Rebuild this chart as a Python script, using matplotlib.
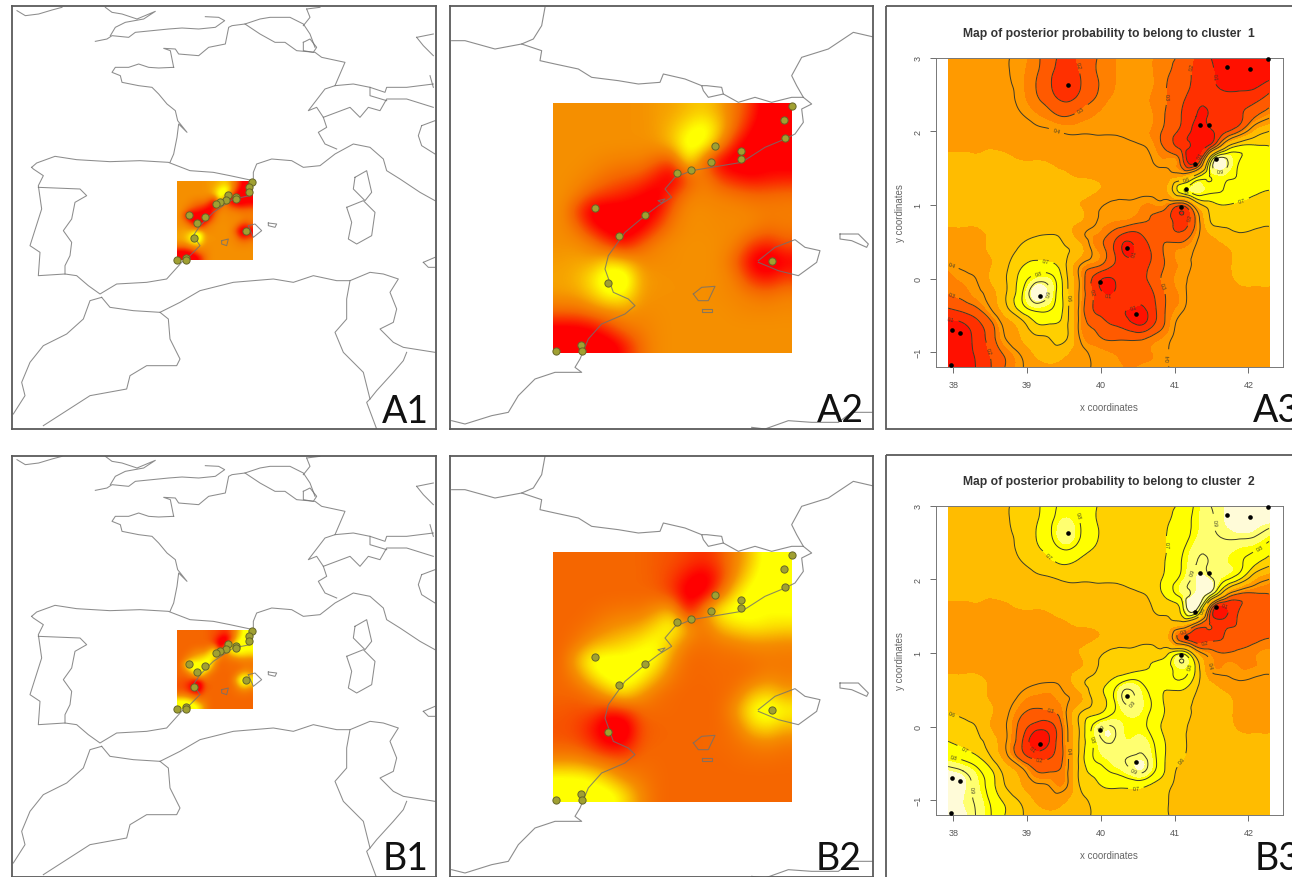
import matplotlib

matplotlib.use("Agg")

import matplotlib.pyplot as plt
import numpy as np
from matplotlib.colors import BoundaryNorm, LinearSegmentedColormap, ListedColormap
from matplotlib.patches import Rectangle
from matplotlib.tri import Triangulation, UniformTriRefiner

W, H = 1292, 878

# wide map, coordinates
wide_lines = [
    [(95, 505), (110, 492), (165, 472), (230, 482), (330, 488), (420, 485), (505, 490), (570, 515), (640, 520), (690, 530), (760, 545)],
    [(521, 205), (476, 207), (446, 205), (416, 195), (386, 205), (346, 205), (336, 220), (361, 230), (366, 250), (416, 260), (456, 265), (476, 285), (501, 315), (526, 335), (533, 365), (561, 400), (536, 375), (531, 415), (521, 465), (510, 490)],
    [(521, 205), (511, 155), (491, 148), (526, 150), (536, 165), (596, 170), (626, 145), (676, 135), (686, 85), (696, 80), (735, 75), (780, 60), (810, 55), (870, 55), (910, 75), (930, 105), (945, 145)],
    [(735, 75), (780, 105), (825, 130), (855, 130), (890, 155), (945, 160), (965, 175), (1035, 190), (1005, 260), (975, 270), (925, 335), (950, 325), (970, 355), (1050, 325), (1080, 355), (1105, 325), (1140, 335), (1160, 300), (1220, 300), (1300, 325)],
    [(1005, 260), (1060, 255), (1110, 265), (1155, 280), (1160, 265), (1220, 265), (1300, 255)],
    [(1110, 265), (1110, 290), (1160, 305)],
    [(910, 130), (930, 120), (950, 145), (940, 160), (910, 155), (910, 130)],
    [(920, 30), (930, 55), (910, 80)], [(920, 30), (960, 25)],
    [(970, 355), (980, 385), (955, 400), (975, 435), (1010, 450)],
    [(760, 545), (760, 520), (770, 495), (815, 480), (875, 485), (910, 505), (960, 500), (1005, 465), (1060, 435), (1110, 445), (1150, 480), (1160, 515), (1200, 540), (1260, 580), (1305, 605)],
    [(760, 545), (750, 590), (700, 600), (640, 640), (600, 680), (580, 710), (600, 740), (570, 770), (545, 790), (500, 840), (440, 850), (350, 855), (300, 885), (265, 860), (230, 830), (195, 825), (115, 830), (120, 760), (90, 740), (125, 630), (115, 560), (130, 530), (100, 510), (95, 505)],
    [(115, 565), (240, 570), (260, 590), (225, 610), (215, 660), (190, 695), (215, 730), (210, 770), (195, 800), (195, 825)],
    [(305, 895), (330, 925), (400, 935), (480, 940), (540, 910), (600, 875), (700, 850), (820, 840), (880, 850), (940, 830), (1010, 845), (1050, 845), (1110, 820), (1150, 825), (1195, 840), (1170, 880), (1190, 930), (1180, 970), (1140, 990), (1180, 1030), (1210, 1045), (1305, 1060)],
    [(305, 895), (270, 905), (250, 960), (200, 1005), (130, 1040), (90, 1090), (65, 1150), (75, 1190), (40, 1245)],
    [(480, 940), (505, 960), (510, 1020), (540, 1080), (530, 1100), (440, 1100), (390, 1130), (380, 1170), (270, 1190), (130, 1280)],
    [(1050, 845), (1040, 900), (1040, 960), (1005, 1000), (1030, 1060), (1090, 1120), (1110, 1200)],
    [(1220, 1060), (1210, 1085), (1180, 1120), (1130, 1175), (1110, 1200), (1100, 1210), (1130, 1290)],
    [(1065, 535), (1100, 515), (1115, 580), (1095, 605), (1060, 570), (1065, 535)],
    [(1040, 625), (1090, 605), (1125, 640), (1115, 710), (1070, 735), (1045, 720), (1055, 670), (1040, 625)],
    [(1250, 115), (1270, 140), (1300, 170)], [(1250, 115), (1300, 105)],
    [(1290, 230), (1300, 265)],
    [(1265, 380), (1305, 365)], [(1265, 380), (1255, 410), (1265, 440), (1305, 465)],
    [(1270, 790), (1305, 775)], [(1270, 790), (1285, 805), (1305, 805)],
    [(745, 680), (765, 675), (785, 695), (760, 715), (745, 680)],
    [(805, 672), (830, 675), (825, 685), (805, 680), (805, 672)],
    [(665, 725), (685, 720), (680, 740), (665, 735), (665, 725)],
    [(286, 127), (321, 120), (336, 110), (386, 115), (406, 100), (456, 95), (506, 90), (546, 87), (596, 90), (646, 85), (674, 65), (656, 55), (616, 53)],
    [(316, 25), (336, 40), (366, 45), (411, 60), (466, 37), (431, 60), (376, 70), (346, 85), (331, 110)],
    [(51, 35), (76, 50), (116, 45), (156, 33), (186, 25)],
]

# close map
close_lines = [
    [(20, 125), (60, 125), (150, 150), (230, 135), (290, 155), (285, 185), (330, 195), (400, 210), (440, 235), (520, 245), (580, 255), (645, 250), (655, 225), (720, 240), (770, 260), (785, 260), (830, 265), (835, 285), (790, 295), (775, 275), (770, 260)],
    [(835, 285), (880, 310), (930, 295), (980, 310), (1040, 295), (1075, 295)],
    [(1290, 115), (1225, 100), (1150, 150), (1070, 175), (1040, 230), (1055, 260), (1075, 295), (1100, 315), (1070, 330), (1075, 370), (1050, 405), (1020, 420), (960, 445), (890, 490), (800, 505), (740, 515), (690, 535), (660, 570), (680, 595), (640, 620), (600, 650), (540, 700), (490, 770), (480, 810), (505, 880), (550, 900), (570, 920), (540, 945), (470, 975), (430, 1020), (405, 1080), (390, 1105), (410, 1120), (330, 1120), (270, 1140), (220, 1190), (190, 1240), (140, 1250), (60, 1275), (20, 1265)],
    [(300, 25), (290, 80), (265, 120), (230, 135)],
    [(1290, 1240), (1220, 1240), (1180, 1270), (1100, 1270), (1030, 1265), (960, 1290), (920, 1285)],
    [(940, 785), (990, 745), (1050, 722), (1080, 745), (1125, 755), (1115, 790), (1060, 830), (1000, 815), (940, 790)],
    [(1185, 705), (1240, 705), (1270, 735), (1265, 745), (1220, 725), (1185, 720), (1185, 705)],
    [(745, 885), (770, 865), (810, 862), (790, 905), (760, 905), (745, 885)],
    [(770, 930), (800, 930), (800, 940), (770, 940), (770, 930)],
    [(640, 605), (660, 600), (650, 612), (640, 605)],
]

wide_site_x = [757, 748, 748, 683, 707, 707, 677, 660, 648, 615, 568, 592, 582, 737, 557, 557, 530]
wide_site_y = [548, 563, 580, 587, 595, 600, 603, 610, 614, 653, 648, 673, 717, 697, 778, 783, 783]
close_site_x = [1040, 1017, 1020, 811, 888, 888, 797, 739, 697, 601, 451, 522, 488, 980, 407, 411, 332]
close_site_y = [322, 362, 418, 440, 457, 480, 490, 513, 522, 647, 628, 711, 852, 785, 1037, 1055, 1055]

# probability surfaces on the maps, percent (rows top to bottom)
surface_a = [
    [57, 57, 57, 57, 57, 57, 60, 62, 68, 72, 62, 45, 25, 4, 2],
    [57, 57, 57, 57, 57, 57, 60, 68, 82, 92, 72, 40, 15, 3, 3],
    [57, 57, 57, 57, 57, 57, 58, 70, 95, 90, 55, 18, 5, 3, 3],
    [57, 57, 55, 52, 50, 50, 40, 30, 85, 40, 10, 5, 6, 12, 10],
    [57, 55, 50, 42, 38, 33, 20, 6, 35, 52, 30, 20, 15, 18, 20],
    [57, 50, 35, 28, 22, 15, 8, 30, 50, 52, 50, 46, 42, 42, 44],
    [57, 30, 5, 5, 8, 5, 12, 42, 56, 56, 54, 54, 52, 50, 50],
    [56, 45, 20, 6, 3, 10, 32, 50, 56, 56, 55, 55, 52, 45, 48],
    [57, 57, 50, 30, 18, 38, 52, 56, 57, 57, 56, 50, 30, 22, 35],
    [60, 62, 62, 75, 68, 55, 55, 56, 57, 57, 55, 38, 10, 2, 12],
    [62, 66, 80, 100, 100, 62, 58, 57, 57, 57, 56, 48, 25, 18, 30],
    [60, 62, 72, 88, 85, 60, 57, 57, 57, 56, 55, 53, 48, 45, 50],
    [42, 42, 50, 55, 58, 55, 56, 57, 57, 57, 57, 55, 54, 54, 55],
    [10, 10, 15, 30, 45, 50, 55, 57, 57, 57, 57, 57, 57, 57, 57],
    [2, 2, 2, 5, 20, 42, 55, 57, 57, 57, 57, 57, 57, 57, 57],
]
surface_b = [
    [40, 40, 40, 40, 40, 40, 37, 35, 30, 26, 35, 52, 72, 93, 95],
    [40, 40, 40, 40, 40, 40, 37, 30, 17, 7, 26, 57, 82, 94, 94],
    [40, 40, 40, 40, 40, 40, 39, 28, 5, 9, 42, 79, 92, 94, 94],
    [40, 40, 42, 45, 47, 47, 57, 67, 14, 57, 87, 92, 91, 85, 87],
    [40, 42, 47, 55, 59, 64, 77, 91, 62, 45, 67, 77, 82, 79, 77],
    [40, 47, 62, 69, 75, 82, 89, 67, 47, 45, 47, 51, 55, 55, 53],
    [40, 67, 92, 92, 89, 92, 85, 55, 41, 41, 43, 43, 45, 47, 47],
    [41, 52, 77, 91, 94, 87, 65, 47, 41, 41, 42, 42, 45, 52, 49],
    [40, 40, 47, 67, 79, 59, 45, 41, 40, 40, 41, 47, 67, 75, 62],
    [37, 35, 35, 23, 28, 42, 42, 41, 40, 40, 42, 59, 87, 95, 85],
    [35, 32, 19, 0, 0, 35, 39, 40, 40, 40, 41, 49, 72, 79, 67],
    [37, 35, 26, 11, 14, 37, 40, 40, 40, 41, 42, 44, 49, 52, 47],
    [55, 55, 47, 42, 39, 42, 41, 40, 40, 40, 40, 42, 43, 43, 42],
    [87, 87, 82, 67, 52, 47, 42, 40, 40, 40, 40, 40, 40, 40, 40],
    [95, 95, 95, 92, 77, 55, 42, 40, 40, 40, 40, 40, 40, 40, 40],
]

# posterior maps, percent, rows from y=3.0 down to y=-1.2
grid_x = [37.93, 38.13, 38.33, 38.53, 38.72, 38.92, 39.12, 39.32, 39.51, 39.71, 39.91, 40.10,
          40.30, 40.50, 40.70, 40.89, 41.09, 41.29, 41.49, 41.68, 41.88, 42.08, 42.28]
grid_y = [3.0, 2.8, 2.6, 2.4, 2.2, 2.0, 1.8, 1.6, 1.4, 1.2, 1.0, 0.8, 0.6, 0.4, 0.2, 0.0,
          -0.2, -0.4, -0.6, -0.8, -1.0, -1.2]
posterior_1 = [
    [47, 47, 47, 47, 41, 38, 32, 24, 17, 22, 29, 34, 37, 38, 36, 32, 28, 18, 10, 7, 5, 5, 4],
    [47, 47, 47, 46, 41, 37, 31, 22, 14, 20, 29, 34, 37, 38, 36, 31, 26, 17, 11, 7, 6, 6, 6],
    [47, 47, 47, 46, 42, 37, 30, 21, 11, 19, 28, 34, 37, 38, 36, 30, 25, 16, 11, 9, 8, 9, 15],
    [47, 47, 47, 47, 43, 38, 32, 26, 20, 25, 31, 36, 38, 38, 35, 30, 22, 12, 11, 13, 16, 19, 26],
    [47, 47, 47, 47, 45, 41, 37, 33, 30, 33, 36, 38, 39, 39, 36, 29, 20, 10, 11, 14, 18, 29, 38],
    [48, 48, 48, 48, 47, 45, 42, 41, 39, 39, 39, 39, 38, 37, 35, 27, 17, 7, 8, 18, 30, 50, 60],
    [48, 48, 48, 49, 48, 47, 46, 45, 44, 44, 44, 44, 44, 41, 37, 27, 16, 6, 16, 52, 71, 71, 70],
    [53, 53, 52, 53, 52, 50, 50, 49, 47, 47, 47, 46, 46, 44, 40, 37, 26, 7, 76, 94, 80, 74, 72],
    [53, 53, 53, 53, 53, 53, 53, 52, 51, 49, 48, 47, 46, 45, 44, 43, 45, 62, 81, 84, 79, 74, 72],
    [53, 53, 53, 53, 53, 53, 53, 53, 53, 53, 51, 47, 45, 44, 43, 48, 76, 88, 82, 79, 76, 73, 70],
    [53, 53, 53, 53, 53, 53, 53, 53, 53, 50, 43, 39, 38, 37, 35, 33, 22, 50, 66, 70, 68, 65, 63],
    [53, 53, 53, 53, 53, 53, 53, 53, 53, 51, 42, 37, 36, 33, 29, 24, 14, 32, 61, 63, 64, 64, 63],
    [47, 47, 47, 52, 52, 56, 59, 60, 56, 44, 36, 30, 19, 18, 27, 26, 22, 36, 50, 56, 59, 57, 55],
    [47, 47, 47, 52, 55, 62, 65, 65, 61, 54, 37, 27, 9, 12, 22, 32, 36, 41, 46, 48, 53, 53, 53],
    [40, 43, 46, 50, 58, 68, 72, 71, 62, 42, 34, 25, 15, 14, 22, 31, 37, 42, 46, 47, 53, 53, 53],
    [33, 37, 41, 52, 60, 74, 85, 84, 65, 39, 17, 9, 15, 17, 24, 33, 38, 44, 47, 47, 52, 53, 53],
    [30, 33, 38, 46, 60, 78, 97, 88, 66, 39, 18, 9, 14, 13, 19, 31, 37, 46, 47, 47, 47, 47, 47],
    [20, 24, 30, 42, 58, 75, 84, 81, 67, 38, 19, 14, 11, 9, 16, 31, 38, 47, 47, 47, 47, 47, 47],
    [7, 10, 18, 30, 45, 56, 70, 71, 65, 38, 27, 20, 15, 8, 17, 32, 43, 47, 47, 47, 47, 47, 47],
    [5, 6, 14, 27, 41, 50, 58, 61, 63, 40, 32, 28, 28, 27, 32, 37, 45, 47, 47, 47, 47, 47, 47],
    [4, 7, 12, 23, 33, 42, 52, 56, 52, 44, 38, 36, 35, 35, 36, 39, 46, 47, 47, 47, 47, 47, 47],
    [3, 6, 11, 21, 31, 39, 45, 47, 47, 44, 39, 37, 36, 36, 37, 39, 46, 47, 47, 47, 47, 47, 47],
]
posterior_2 = [
    [53, 53, 53, 53, 59, 62, 68, 76, 83, 78, 71, 66, 63, 62, 64, 68, 72, 82, 90, 93, 95, 95, 96],
    [53, 53, 53, 54, 59, 63, 69, 78, 86, 80, 71, 66, 63, 62, 64, 69, 74, 83, 89, 93, 94, 94, 94],
    [53, 53, 53, 54, 58, 63, 70, 79, 89, 81, 72, 66, 63, 62, 64, 70, 75, 84, 89, 91, 92, 91, 85],
    [53, 53, 53, 53, 57, 62, 68, 74, 80, 75, 69, 64, 62, 62, 65, 70, 78, 88, 89, 87, 84, 81, 74],
    [53, 53, 53, 53, 55, 59, 63, 67, 70, 67, 64, 62, 61, 61, 64, 71, 80, 90, 89, 86, 82, 71, 62],
    [52, 52, 52, 52, 53, 55, 58, 59, 61, 61, 61, 61, 62, 63, 65, 73, 83, 93, 92, 82, 70, 50, 40],
    [52, 52, 52, 51, 52, 53, 54, 55, 56, 56, 56, 56, 56, 59, 63, 73, 84, 94, 84, 48, 29, 29, 30],
    [47, 47, 48, 47, 48, 50, 50, 51, 53, 53, 53, 54, 54, 56, 60, 63, 74, 93, 24, 6, 20, 26, 28],
    [47, 47, 47, 47, 47, 47, 47, 48, 49, 51, 52, 53, 54, 55, 56, 57, 55, 38, 19, 16, 21, 26, 28],
    [47, 47, 47, 47, 47, 47, 47, 47, 47, 47, 49, 53, 55, 56, 57, 52, 24, 12, 18, 21, 24, 27, 30],
    [47, 47, 47, 47, 47, 47, 47, 47, 47, 50, 57, 61, 62, 63, 65, 67, 78, 50, 34, 30, 32, 35, 37],
    [47, 47, 47, 47, 47, 47, 47, 47, 47, 49, 58, 63, 64, 67, 71, 76, 86, 68, 39, 37, 36, 36, 37],
    [53, 53, 53, 48, 48, 44, 41, 40, 44, 56, 64, 70, 81, 82, 73, 74, 78, 64, 50, 44, 41, 43, 45],
    [53, 53, 53, 48, 45, 38, 35, 35, 39, 46, 63, 73, 91, 88, 78, 68, 64, 59, 54, 52, 47, 47, 47],
    [60, 57, 54, 50, 42, 32, 28, 29, 38, 58, 66, 75, 85, 86, 78, 69, 63, 58, 54, 53, 47, 47, 47],
    [67, 63, 59, 48, 40, 26, 15, 16, 35, 61, 83, 91, 85, 83, 76, 67, 62, 56, 53, 53, 48, 47, 47],
    [70, 67, 62, 54, 40, 22, 3, 12, 34, 61, 82, 91, 86, 87, 81, 69, 63, 54, 53, 53, 53, 53, 53],
    [80, 76, 70, 58, 42, 25, 16, 19, 33, 62, 81, 86, 89, 91, 84, 69, 62, 53, 53, 53, 53, 53, 53],
    [93, 90, 82, 70, 55, 44, 30, 29, 35, 62, 73, 80, 85, 92, 83, 68, 57, 53, 53, 53, 53, 53, 53],
    [95, 94, 86, 73, 59, 50, 42, 39, 37, 60, 68, 72, 72, 73, 68, 63, 55, 53, 53, 53, 53, 53, 53],
    [96, 93, 88, 77, 67, 58, 48, 44, 48, 56, 62, 64, 65, 65, 64, 61, 54, 53, 53, 53, 53, 53, 53],
    [97, 94, 89, 79, 69, 61, 55, 53, 53, 56, 61, 63, 64, 64, 63, 61, 54, 53, 53, 53, 53, 53, 53],
]
point_x = [37.97, 37.98, 38.09, 39.17, 39.55, 39.99, 40.35, 40.47, 41.09, 41.15, 41.27, 41.34, 41.47, 41.56, 41.71, 42.02, 42.26]
point_y = [-1.17, -0.70, -0.74, -0.24, 2.63, -0.05, 0.41, -0.48, 0.97, 1.22, 1.56, 2.08, 2.09, 1.63, 2.87, 2.85, 2.98]

x_ticks = [38, 39, 40, 41, 42]
y_ticks = [-1, 0, 1, 2, 3]
contour_levels = [10, 20, 30, 40, 60, 70, 80, 90]
fill_edges = [0, 10, 20, 30, 36, 50, 60, 70, 85, 93, 100]
fill_colors = ["#ff1000", "#ff3000", "#ff5a00", "#ff8000", "#ff9a00", "#ffbc00", "#ffd000", "#ffff00", "#ffff70", "#fffbd8"]

heat_map = LinearSegmentedColormap.from_list(
    "heat", [(0, "#ff0000"), (0.15, "#ff0000"), (0.40, "#f56600"), (0.57, "#f59000"), (0.85, "#ffff00"), (1, "#ffff00")])
band_map = ListedColormap(fill_colors)
band_norm = BoundaryNorm(fill_edges, band_map.N)

plt.rcParams["font.family"] = ["Liberation Sans", "DejaVu Sans"]
fig = plt.figure(figsize=(W / 100, H / 100), dpi=100)


def px_axes(x0, y0, x1, y1):
    return fig.add_axes([x0 / W, 1 - y1 / H, (x1 - x0) / W, (y1 - y0) / H])


def map_panel(box, xlim, ylim, lines, surface, extent, site_x, site_y, lw):
    ax = px_axes(*box)
    ax.imshow(np.array(surface) / 100, cmap=heat_map, vmin=0, vmax=1, extent=extent,
              aspect="auto", interpolation="bicubic", zorder=1)
    for line in lines:
        xs, ys = zip(*line)
        ax.plot(xs, ys, color="#707070", lw=lw, alpha=0.8, zorder=2)
    ax.scatter(site_x, site_y, s=27, color="#a0a032", edgecolor="#666628", linewidth=0.7, zorder=3)
    ax.set_xlim(*xlim)
    ax.set_ylim(*ylim)
    ax.set_xticks([])
    ax.set_yticks([])
    for s in ax.spines.values():
        s.set_color("#5a5a5a")
        s.set_linewidth(1.3)
    return ax


def posterior_panel(box, field, title, title_y):
    ax = px_axes(*box)
    xx, yy = np.meshgrid(grid_x, grid_y)
    # smooth the read grid with matplotlib's own refiner
    tri = Triangulation(xx.ravel(), yy.ravel())
    fine_tri, fine_z = UniformTriRefiner(tri).refine_field(np.array(field, dtype=float).ravel(), subdiv=3)
    fine_z = np.clip(fine_z, 0, 100)
    ax.tricontourf(fine_tri, fine_z, levels=fill_edges, cmap=band_map, norm=band_norm)
    cs = ax.tricontour(fine_tri, fine_z, levels=contour_levels, colors="#3a3a2a", linewidths=0.7)
    ax.clabel(cs, fontsize=3.6, fmt=lambda v: f"{v / 100:.1f}", inline=True)
    ax.scatter(point_x, point_y, s=11, color="black", zorder=4, clip_on=False, linewidth=0)
    ax.set_xlim(37.765, 42.465)
    ax.set_ylim(-1.204, 3.0)
    ax.set_xticks(x_ticks)
    ax.set_yticks(y_ticks)
    ax.tick_params(colors="#555555", labelsize=6.5, length=4.5, width=0.6, pad=5)
    for lab in ax.get_yticklabels():
        lab.set_rotation(90)
        lab.set_va("center")
    for s in ax.spines.values():
        s.set_color("#777777")
        s.set_linewidth(0.7)
    ax.set_xlabel("x coordinates", fontsize=7, color="#666666", labelpad=9)
    ax.set_ylabel("y coordinates", fontsize=7, color="#666666", labelpad=6)
    fig.text(1109 / W, 1 - title_y / H, title, fontsize=8.7, fontweight="bold", color="#333333",
             ha="center", va="center")
    return ax


wide_extent = (530, 756, 783, 548)
close_extent = (325, 1040, 1063, 315)

map_panel((12, 7, 436, 430), (36, 1308), (1290, 21), wide_lines, surface_a, wide_extent, wide_site_x, wide_site_y, 0.75)
map_panel((12, 457, 436, 878), (36, 1308), (1287, 24), wide_lines, surface_b, wide_extent, wide_site_x, wide_site_y, 0.75)
map_panel((450, 7, 873, 430), (15, 1284), (1290, 21), close_lines, surface_a, close_extent, close_site_x, close_site_y, 0.8)
map_panel((450, 457, 873, 878), (15, 1284), (1287, 24), close_lines, surface_b, close_extent, close_site_x, close_site_y, 0.8)

posterior_panel((936, 58.7, 1282.7, 368.3), posterior_1, "Map of posterior probability to belong to cluster  1", 34)
posterior_panel((936, 506.7, 1282.7, 816.3), posterior_2, "Map of posterior probability to belong to cluster  2", 482)

# frames of the right column, they run off the picture
overlay = fig.add_axes([0, 0, 1, 1], facecolor="none")
overlay.set_xlim(0, W)
overlay.set_ylim(H, 0)
overlay.axis("off")
overlay.add_patch(Rectangle((886, 7), 420, 423, fill=False, edgecolor="#5a5a5a", lw=1.3))
overlay.add_patch(Rectangle((886, 456), 420, 440, fill=False, edgecolor="#5a5a5a", lw=1.3))

panel_names = ["A1", "A2", "A3", "B1", "B2", "B3"]
name_x = [429, 864, 1253, 429, 862, 1255]
name_y = [412, 411, 411, 859, 859, 859]
for name, nx, ny in zip(panel_names, name_x, name_y):
    ha = "left" if name.endswith("3") else "right"
    overlay.text(nx, ny, name, fontsize=27, family="Lato", color="#111111", ha=ha, va="center")

fig.savefig("out.png", dpi=100)
plt.close(fig)
